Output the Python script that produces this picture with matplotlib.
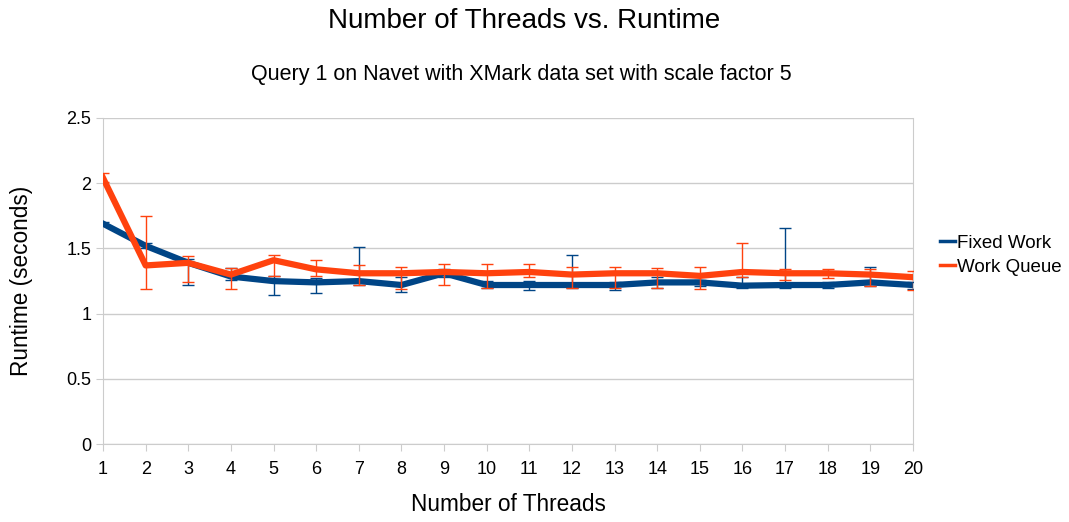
import numpy as np
import matplotlib
matplotlib.use('Agg')
import matplotlib.pyplot as plt
from matplotlib.lines import Line2D

plt.rcParams['font.family'] = ['Liberation Sans', 'DejaVu Sans']

threads = np.arange(1, 21)

# Fixed Work: mean runtime with lower/upper error bar ends
fixed = [1.69, 1.52, 1.39, 1.285, 1.25, 1.24, 1.25, 1.22, 1.31, 1.22,
         1.22, 1.22, 1.22, 1.24, 1.24, 1.215, 1.22, 1.22, 1.24, 1.22]
fixed_lo = [1.68, 1.50, 1.22, 1.26, 1.14, 1.16, 1.22, 1.17, 1.28, 1.20,
            1.18, 1.20, 1.18, 1.20, 1.21, 1.20, 1.20, 1.20, 1.21, 1.19]
fixed_hi = [1.70, 1.54, 1.42, 1.35, 1.29, 1.27, 1.51, 1.28, 1.34, 1.25,
            1.25, 1.45, 1.24, 1.28, 1.26, 1.28, 1.66, 1.24, 1.36, 1.24]

# Work Queue
queue = [2.04, 1.37, 1.39, 1.30, 1.41, 1.34, 1.31, 1.31, 1.32, 1.31,
         1.32, 1.30, 1.31, 1.31, 1.29, 1.32, 1.31, 1.31, 1.30, 1.28]
queue_lo = [2.01, 1.19, 1.24, 1.19, 1.29, 1.29, 1.22, 1.19, 1.22, 1.20,
            1.28, 1.20, 1.20, 1.20, 1.19, 1.28, 1.255, 1.27, 1.21, 1.18]
queue_hi = [2.08, 1.75, 1.44, 1.35, 1.45, 1.41, 1.375, 1.36, 1.38, 1.38,
            1.38, 1.355, 1.36, 1.35, 1.36, 1.54, 1.345, 1.345, 1.345, 1.33]

blue = '#004586'
orange = '#ff420e'

fig = plt.figure(figsize=(10.69, 5.22), dpi=100)
ax = fig.add_axes([0.0964, 0.149, 0.7576, 0.625])

fixed = np.array(fixed)
queue = np.array(queue)
ax.errorbar(threads, fixed,
            yerr=[fixed - np.array(fixed_lo), np.array(fixed_hi) - fixed],
            color=blue, lw=4.5, ecolor=blue, elinewidth=1, capsize=4,
            capthick=1, label='Fixed Work', zorder=3)
ax.errorbar(threads, queue,
            yerr=[queue - np.array(queue_lo), np.array(queue_hi) - queue],
            color=orange, lw=4.5, ecolor=orange, elinewidth=1, capsize=4,
            capthick=1, label='Work Queue', zorder=4)

ax.set_xlim(1, 20)
ax.set_ylim(0, 2.5)
ax.set_xticks(threads)
ax.set_yticks(np.arange(0, 2.51, 0.5))
ax.set_yticklabels(['0', '0.5', '1', '1.5', '2', '2.5'])
ax.grid(axis='y', color='#cccccc', lw=1)
ax.set_axisbelow(True)
ax.spines['top'].set_visible(False)
for s in ['left', 'right', 'bottom']:
    ax.spines[s].set_color('#cccccc')
ax.tick_params(colors='#cccccc', labelcolor='black', labelsize=13, length=5)
ax.tick_params(axis='x', pad=7)

ax.set_xlabel('Number of Threads', fontsize=16.3, labelpad=11)
ax.set_ylabel('Runtime (seconds)', fontsize=16.3, labelpad=24)

fig.text(0.49, 0.985, 'Number of Threads vs. Runtime', fontsize=20,
         ha='center', va='top')
fig.text(0.488, 0.878, 'Query 1 on Navet with XMark data set with scale factor 5',
         fontsize=15.5, ha='center', va='top')

handles = [Line2D([], [], color=blue, lw=2.5), Line2D([], [], color=orange, lw=2.5)]
fig.legend(handles, ['Fixed Work', 'Work Queue'], loc='center left',
           bbox_to_anchor=(0.864, 0.511), frameon=False, fontsize=13.5,
           handlelength=0.8, handletextpad=0.1, labelspacing=0.35)

fig.savefig('out.png', dpi=100)
